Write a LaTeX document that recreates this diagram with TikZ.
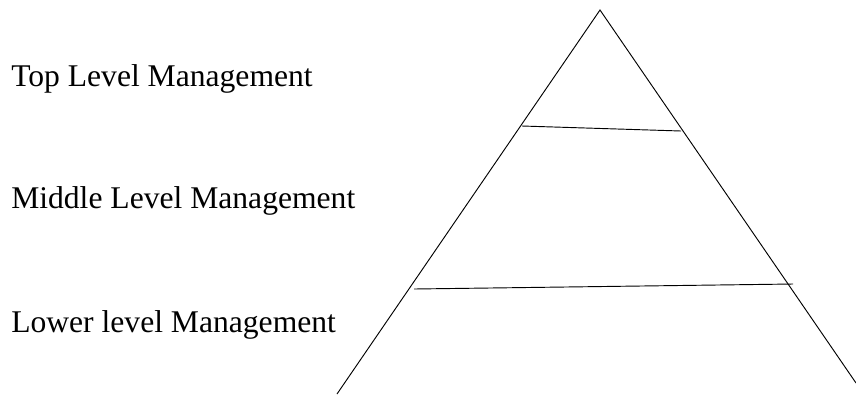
\documentclass[tikz,border=0pt]{standalone}
\usepackage{fontspec}
\setmainfont{Liberation Serif}
\begin{document}
\begin{tikzpicture}[x=0.75pt,y=-0.75pt,
  label/.style={anchor=base west,inner sep=0pt,font=\fontsize{23.7pt}{28pt}\selectfont},
  edge/.style={draw=black,line width=0.7pt}]
\useasboundingbox (0,0) rectangle (856,394);
% labels
\node[label] (top) at (11,86) {Top Level Management};
\node[label] (mid) at (11,208) {Middle Level Management};
\node[label] (low) at (11,332) {Lower level Management};
% pyramid
\coordinate (apex) at (600,10);
\coordinate (bl) at (337,394);
\coordinate (br) at (856,383);
\coordinate (u1) at (522,126);
\coordinate (u2) at (681,131);
\coordinate (l1) at (414,289);
\coordinate (l2) at (793,284);
\draw[edge] (bl) -- (apex) -- (br);
\draw[edge] (u1) -- (u2);
\draw[edge] (l1) -- (l2);
\end{tikzpicture}
\end{document}
